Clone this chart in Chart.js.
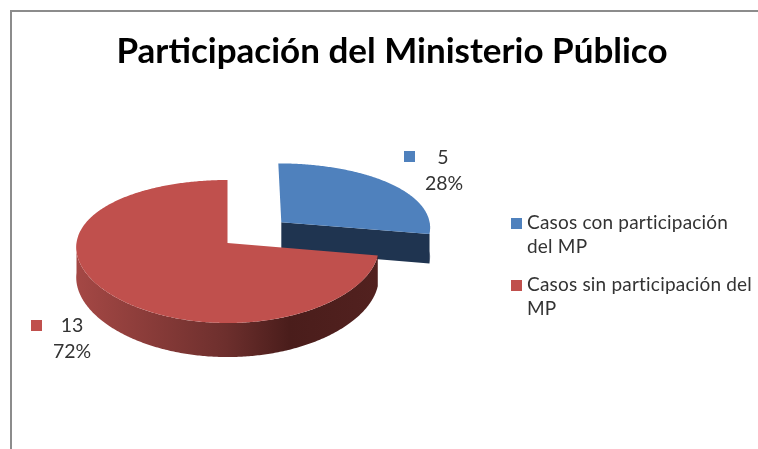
<!DOCTYPE html>
<html>
<head>
<meta charset="utf-8">
<style>
  html, body { margin: 0; padding: 0; background: #fff; }
  canvas { display: block; }
</style>
<script src="https://cdn.jsdelivr.net/npm/chart.js@4/dist/chart.umd.min.js"></script>
</head>
<body>
<canvas id="chart" width="758" height="449"></canvas>
<script>
const categories = ['Casos con participación del MP', 'Casos sin participación del MP'];
const legendLines = [['Casos con participación', 'del MP'], ['Casos sin participación del', 'MP']];
const values = [5, 13];
const colors = ['#4f81bd', '#c0504d'];
const titleText = 'Participación del Ministerio Público';
const fontName = 'Lato, "Open Sans", sans-serif';

// fake tilted view of the pie: chart px -> screen px
const view = { cx: 227.5, cy: 243, rx: 151, ry: 70.5, persp: 0.119, perspX: 0.06, depth: 30 };

function project(dx, dy, R, lower) {
    const v = dy / R;
    const w = 1 / (1 - view.persp * v);
    const wx = 1 / (1 - view.perspX * v);
    return {
        x: view.cx + dx / R * view.rx * wx,
        y: view.cy + view.ry * v * w + (lower ? view.depth * w : 0)
    };
}

function rimPoints(ox, oy, R, from, to, lower) {
    const pts = [];
    const steps = Math.max(2, Math.ceil(Math.abs(to - from) * 90));
    for (let i = 0; i <= steps; i++) {
        const a = from + (to - from) * i / steps;
        pts.push(project(ox + Math.cos(a) * R, oy + Math.sin(a) * R, R, lower));
    }
    return pts;
}

function fillPoly(ctx, pts, fill) {
    ctx.beginPath();
    pts.forEach((p, i) => i ? ctx.lineTo(p.x, p.y) : ctx.moveTo(p.x, p.y));
    ctx.closePath();
    ctx.fillStyle = fill;
    ctx.fill();
}

function sideFill(ctx, i) {
    if (i === 0) return '#1f3450';
    const g = ctx.createLinearGradient(75, 0, 377, 0);
    g.addColorStop(0, '#a54845');
    g.addColorStop(0.5, '#6d2f2d');
    g.addColorStop(0.71, '#4a1d1b');
    g.addColorStop(1, '#52211f');
    return g;
}

const pie3d = {
    id: 'pie3d',
    beforeDraw(chart) {
        // frame of the original picture
        const ctx = chart.ctx;
        ctx.fillStyle = '#8c8c8c';
        ctx.fillRect(10, 10, 748, 2);
        ctx.fillRect(10, 10, 2, 439);
    },
    beforeDatasetsDraw(chart) {
        const ctx = chart.ctx;
        const arcs = chart.getDatasetMeta(0).data;
        arcs.forEach((arc, i) => {
            const { startAngle, endAngle, outerRadius: R } = arc.getProps(['startAngle', 'endAngle', 'outerRadius']);
            const mid = (startAngle + endAngle) / 2;
            const ox = Math.cos(mid) * arc.options.offset;
            const oy = Math.sin(mid) * arc.options.offset;
            const fill = sideFill(ctx, i);

            // outer wall, only the part that faces the viewer
            const from = Math.max(startAngle, 0), to = Math.min(endAngle, Math.PI);
            if (to > from) {
                fillPoly(ctx, rimPoints(ox, oy, R, from, to, false)
                    .concat(rimPoints(ox, oy, R, to, from, true)), fill);
            }
            // cut face
            if (Math.cos(endAngle) > 0.01) {
                const end = [Math.cos(endAngle) * R + ox, Math.sin(endAngle) * R + oy];
                fillPoly(ctx, [project(ox, oy, R, false), project(end[0], end[1], R, false),
                    project(end[0], end[1], R, true), project(ox, oy, R, true)], fill);
            }
            // top face
            const top = rimPoints(ox, oy, R, startAngle, endAngle, false);
            top.push(project(ox, oy, R, false));
            fillPoly(ctx, top, colors[i]);
        });
        return false;
    },
    afterDraw(chart) {
        const ctx = chart.ctx;
        const total = values.reduce((a, b) => a + b, 0);
        ctx.save();
        ctx.textBaseline = 'middle';
        ctx.fillStyle = '#333';

        // data labels
        ctx.font = '19.5px ' + fontName;
        ctx.textAlign = 'center';
        const labelPos = [
            { sx: 404, sy: 151, x: 443, y: 158, y2: 184, x2: 444 },
            { sx: 31, sy: 320, x: 72, y: 326, y2: 352, x2: 72 }
        ];
        values.forEach((val, i) => {
            const p = labelPos[i];
            ctx.fillStyle = colors[i];
            ctx.fillRect(p.sx, p.sy, 11, 11);
            ctx.fillStyle = '#333';
            ctx.fillText(String(val), p.x, p.y);
            ctx.fillText(Math.round(val / total * 100) + '%', p.x2, p.y2);
        });

        // legend
        ctx.font = '19px ' + fontName;
        ctx.textAlign = 'left';
        ctx.letterSpacing = '0.2px';
        const legendY = [218, 280];
        legendLines.forEach((lines, i) => {
            ctx.fillStyle = colors[i];
            ctx.fillRect(511, legendY[i], 11, 11);
            ctx.fillStyle = '#333';
            lines.forEach((line, j) => ctx.fillText(line, 527, legendY[i] + 5 + j * 24));
        });
        ctx.restore();
    }
};

new Chart(document.getElementById('chart'), {
    type: 'pie',
    data: {
        labels: categories,
        datasets: [{
            data: values,
            backgroundColor: colors,
            borderWidth: 0,
            offset: [72, 0]
        }]
    },
    options: {
        responsive: false,
        animation: false,
        layout: { padding: { left: 26 } },
        plugins: {
            legend: { display: false },
            tooltip: { enabled: false },
            title: {
                display: true,
                text: titleText,
                color: '#000',
                font: { family: fontName, size: 35, weight: 'bold', lineHeight: 1.2 },
                padding: { top: 31, bottom: 0 }
            }
        }
    },
    plugins: [pie3d]
});
</script>
</body>
</html>
